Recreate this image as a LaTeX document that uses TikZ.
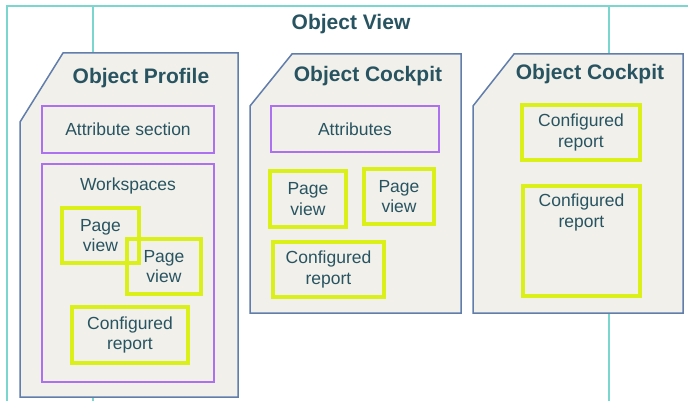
\documentclass[tikz,border=0pt]{standalone}
\usepackage{fontspec}
\setmainfont{Liberation Sans}
\definecolor{frameteal}{RGB}{122,214,206}
\definecolor{cardblue}{RGB}{96,125,172}
\definecolor{cardfill}{RGB}{241,240,234}
\definecolor{areapurple}{RGB}{172,112,240}
\definecolor{partlime}{RGB}{218,240,24}
\definecolor{inkteal}{RGB}{40,84,98}
\tikzset{
  every node/.style={text=inkteal, font=\fontsize{17.5}{20.5}\selectfont, align=center, inner sep=0pt},
  title/.style={font=\fontsize{21}{24}\selectfont\bfseries},
  card/.style={draw=cardblue, fill=cardfill, line width=1.5pt},
  area/.style={draw=areapurple, line width=1.5pt},
  part/.style={draw=partlime, line width=3.2pt}
}
\begin{document}
\begin{tikzpicture}[x=1pt, y=-1pt]
\useasboundingbox (0,0) rectangle (688,401);
% frame behind the cards
\draw[frameteal, line width=1.5pt] (7,401) -- (7,6) -- (688,6);
\draw[frameteal, line width=1.5pt] (93,6) -- (93,401);
\draw[frameteal, line width=1.5pt] (609,6) -- (609,401);
\node[title] (view) at (351,24) {Object View};

% Object Profile
\draw[card] (63,53) -- (238,53) -- (238,397) -- (20,397) -- (20,122) -- cycle;
\node[title] (profile) at (141,78) {Object Profile};
\node[area, minimum width=172pt, minimum height=47pt] (attrsec) at (128,129.5) {Attribute section};
\node[area, minimum width=172pt, minimum height=218pt] (work) at (128,273) {};
\node (worktext) at (128,186) {Workspaces};
\node[part, minimum width=77pt, minimum height=55pt] (pvone) at (100.5,235.5) {Page\\view};
\node[part, minimum width=74pt, minimum height=55pt] (pvtwo) at (164,266.5) {Page\\view};
\node[part, minimum width=116pt, minimum height=56pt] (repone) at (130,335) {Configured\\report};

% Object Cockpit, first
\draw[card] (292,54) -- (461,54) -- (461,313) -- (250,313) -- (250,106) -- cycle;
\node[title] (cockone) at (368,76) {Object Cockpit};
\node[area, minimum width=168pt, minimum height=46pt] (attrs) at (355,129) {Attributes};
\node[part, minimum width=76pt, minimum height=56pt] (pvthree) at (308,199) {Page\\view};
\node[part, minimum width=70pt, minimum height=55pt] (pvfour) at (399,196.5) {Page\\view};
\node[part, minimum width=111pt, minimum height=55pt] (reptwo) at (328.5,269.5) {Configured\\report};

% Object Cockpit, second
\draw[card] (514,54) -- (683,54) -- (683,313) -- (473,313) -- (473,106) -- cycle;
\node[title] (cocktwo) at (590,74) {Object Cockpit};
\node[part, minimum width=118pt, minimum height=55pt] (repthree) at (581,132.5) {Configured\\report};
\node[part, minimum width=117pt, minimum height=110pt] (repfour) at (581.5,241) {};
\node (repfourtext) at (581.5,212.5) {Configured\\report};
\end{tikzpicture}
\end{document}
